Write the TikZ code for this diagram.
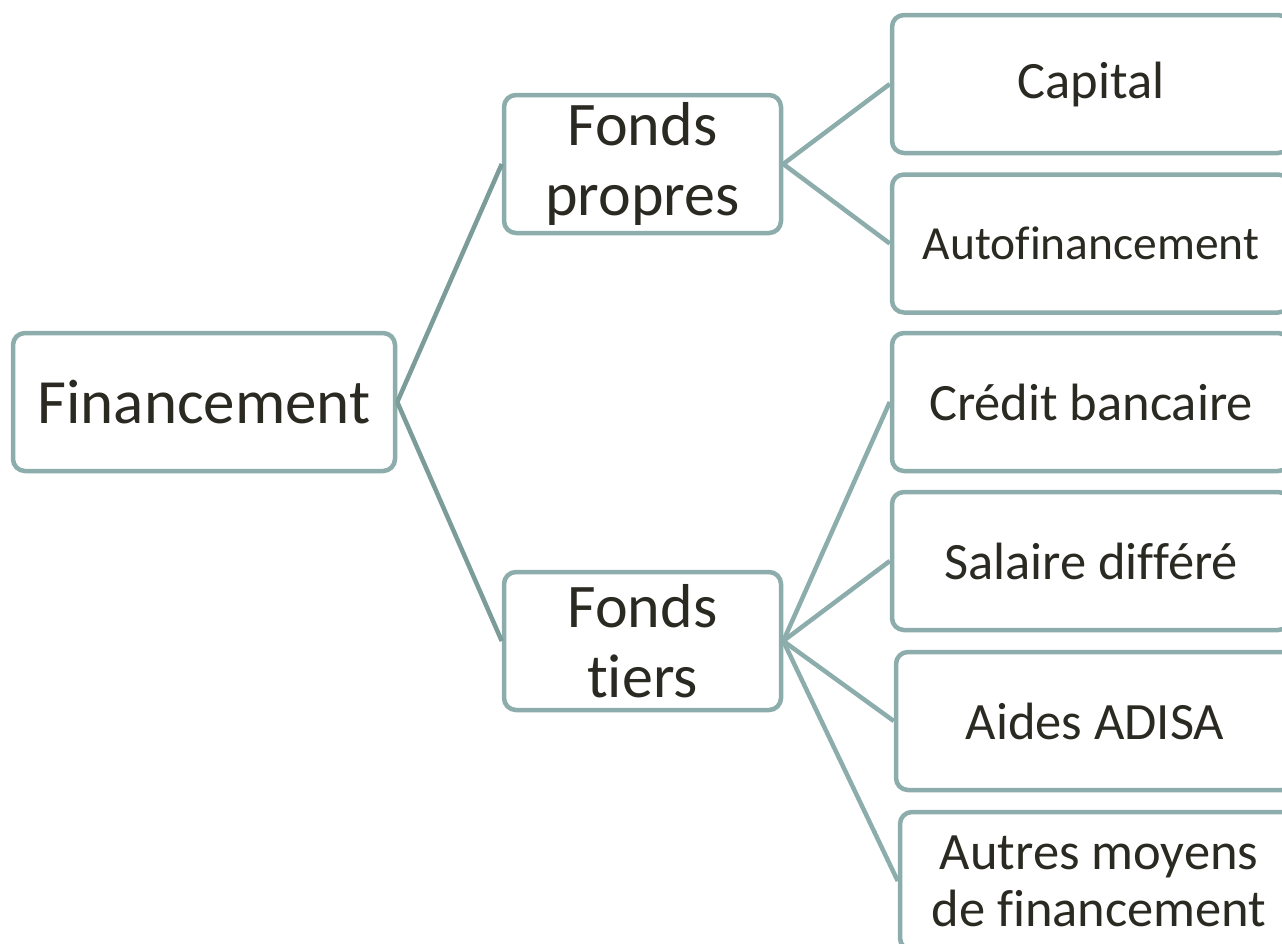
\documentclass[tikz,border=0pt]{standalone}
\usepackage{fontspec}
\setmainfont{Carlito}[Ligatures=NoCommon]
\definecolor{boxline}{HTML}{8CADAB}
\definecolor{linkdark}{HTML}{7C9C9A}
\definecolor{txt}{HTML}{2B2A22}
\begin{document}
\begin{tikzpicture}[x=1pt,y=-1pt,
  box/.style={draw=boxline, line width=4.5pt, rounded corners=12pt, fill=white,
    text=txt, align=center, inner sep=0pt, minimum height=138pt},
  leftbox/.style={box, minimum width=382pt, font=\fontsize{63}{70}\selectfont},
  midbox/.style={box, minimum width=277pt, font=\fontsize{62}{70}\selectfont},
  rightbox/.style={box, minimum width=398pt, font=\fontsize{52.5}{57}\selectfont},
  link/.style={draw=boxline, line width=4.5pt},
  linkd/.style={draw=linkdark, line width=4.5pt}]
\useasboundingbox (0,0) rectangle (1282,943);
\clip (0,0) rectangle (1282,943);
\node[leftbox] (fin) at (204,402) {Financement};
\node[midbox] (fp) at (642.5,164) {Fonds\\propres};
\node[midbox] (ft) at (642.5,641) {Fonds\\tiers};
\node[rightbox] (cap) at (1091,84) {Capital};
\node[rightbox, font=\fontsize{47.5}{57}\selectfont] (auto) at (1091,243.5) {Autofinancement};
\node[rightbox] (cred) at (1091,402) {Crédit bancaire};
\node[rightbox] (sal) at (1091,561) {Salaire différé};
\node[rightbox] (aid) at (1095,721) {Aides ADISA};
\node[rightbox] (aut) at (1099,881) {Autres moyens\\de financement};
\draw[linkd] (fin.east) -- (fp.west);
\draw[linkd] (fin.east) -- (ft.west);
\draw[link] (fp.east) -- (cap.west);
\draw[link] (fp.east) -- (auto.west);
\draw[link] (ft.east) -- (cred.west);
\draw[link] (ft.east) -- (sal.west);
\draw[link] (ft.east) -- (aid.west);
\draw[link] (ft.east) -- (aut.west);
\end{tikzpicture}
\end{document}
